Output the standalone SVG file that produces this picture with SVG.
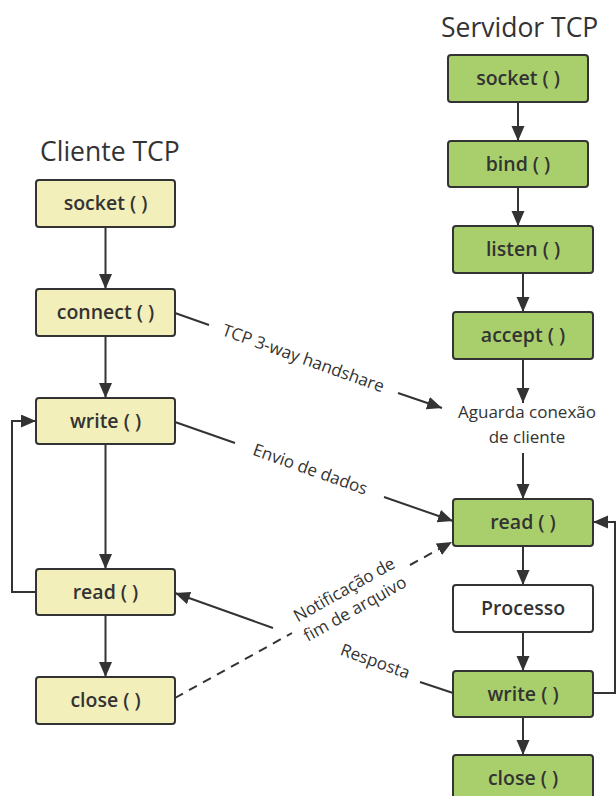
<svg xmlns="http://www.w3.org/2000/svg" width="616" height="796" viewBox="0 0 616 796">
<style>
.title{font-family:"Open Sans","Noto Sans",sans-serif;font-size:26.5px;fill:#333}
.box rect{stroke:#333;stroke-width:2}
.cli rect{fill:#f2efbb}
.srv rect{fill:#a9cf6c}
.wht rect{fill:#ffffff}
.box text{font-family:"Open Sans","Noto Sans",sans-serif;font-size:19.5px;font-weight:600;fill:#333;text-anchor:middle}
.lbl{font-family:"Open Sans","Noto Sans",sans-serif;font-size:17px;fill:#333;text-anchor:middle}
.ln{stroke:#333;stroke-width:2;fill:none}
.dash{stroke-dasharray:9 7}
</style>
<defs>
<marker id="ah" markerUnits="userSpaceOnUse" markerWidth="16" markerHeight="14" refX="15" refY="6.5" orient="auto">
<path d="M0,0 L15,6.5 L0,13 z" fill="#333"/>
</marker>
</defs>

<text class="title" x="40" y="161">Cliente TCP</text>
<text class="title" x="441" y="37">Servidor TCP</text>

<g id="c_socket" class="box cli"><rect x="36" y="180" width="139" height="47" rx="3"/><text x="105.5" y="210">socket ( )</text></g>
<g id="c_connect" class="box cli"><rect x="36" y="289" width="139" height="47" rx="3"/><text x="105.5" y="319">connect ( )</text></g>
<g id="c_write" class="box cli"><rect x="36" y="398" width="139" height="46" rx="3"/><text x="105.5" y="428">write ( )</text></g>
<g id="c_read" class="box cli"><rect x="36" y="569" width="139" height="46" rx="3"/><text x="105.5" y="599">read ( )</text></g>
<g id="c_close" class="box cli"><rect x="36" y="677" width="139" height="47" rx="3"/><text x="105.5" y="707">close ( )</text></g>

<g id="s_socket" class="box srv"><rect x="448" y="55" width="140" height="47" rx="3"/><text x="518" y="85">socket ( )</text></g>
<g id="s_bind" class="box srv"><rect x="448" y="141" width="140" height="46" rx="3"/><text x="518" y="171">bind ( )</text></g>
<g id="s_listen" class="box srv"><rect x="453" y="226" width="140" height="47" rx="3"/><text x="523" y="256">listen ( )</text></g>
<g id="s_accept" class="box srv"><rect x="453" y="312" width="140" height="47" rx="3"/><text x="523" y="342">accept ( )</text></g>
<g id="s_wait"><text class="lbl" x="527" y="418">Aguarda conexão</text><text class="lbl" x="527" y="443">de cliente</text></g>
<g id="s_read" class="box srv"><rect x="453" y="499" width="140" height="47" rx="3"/><text x="523" y="529">read ( )</text></g>
<g id="s_proc" class="box wht"><rect x="453" y="585" width="140" height="47" rx="3"/><text x="523" y="615">Processo</text></g>
<g id="s_write" class="box srv"><rect x="453" y="671" width="140" height="46" rx="3"/><text x="523" y="701">write ( )</text></g>
<g id="s_close" class="box srv"><rect x="453" y="755" width="140" height="47" rx="3"/><text x="523" y="785">close ( )</text></g>

<g id="connectors">
<line class="ln" x1="105.5" y1="227" x2="105.5" y2="289" marker-end="url(#ah)"/>
<line class="ln" x1="105.5" y1="336" x2="105.5" y2="398" marker-end="url(#ah)"/>
<line class="ln" x1="105.5" y1="444" x2="105.5" y2="569" marker-end="url(#ah)"/>
<line class="ln" x1="105.5" y1="615" x2="105.5" y2="677" marker-end="url(#ah)"/>
<polyline class="ln" points="36,592 12,592 12,421 36,421" marker-end="url(#ah)"/>

<line class="ln" x1="518" y1="102" x2="518" y2="141" marker-end="url(#ah)"/>
<line class="ln" x1="518" y1="187" x2="518" y2="226" marker-end="url(#ah)"/>
<line class="ln" x1="523" y1="273" x2="523" y2="312" marker-end="url(#ah)"/>
<line class="ln" x1="523" y1="359" x2="523" y2="403" marker-end="url(#ah)"/>
<line class="ln" x1="523" y1="453" x2="523" y2="499" marker-end="url(#ah)"/>
<line class="ln" x1="523" y1="546" x2="523" y2="585" marker-end="url(#ah)"/>
<line class="ln" x1="523" y1="632" x2="523" y2="671" marker-end="url(#ah)"/>
<line class="ln" x1="523" y1="717" x2="523" y2="755" marker-end="url(#ah)"/>
<polyline class="ln" points="593,693 615,693 615,522 593,522" marker-end="url(#ah)"/>

<line class="ln" x1="175" y1="313" x2="209" y2="325"/>
<line class="ln" x1="398" y1="393" x2="442" y2="408" marker-end="url(#ah)"/>
<text class="lbl" transform="translate(303,359) rotate(19.7)" y="5">TCP 3-way handshare</text>

<line class="ln" x1="175" y1="422" x2="235" y2="443"/>
<line class="ln" x1="384" y1="497" x2="453" y2="521" marker-end="url(#ah)"/>
<text class="lbl" transform="translate(310,470) rotate(19.6)" y="5">Envio de dados</text>

<line class="ln" x1="453" y1="693" x2="420" y2="682"/>
<line class="ln" x1="273" y1="628" x2="175" y2="593" marker-end="url(#ah)"/>
<text class="lbl" transform="translate(375,662) rotate(19.8)" y="5">Resposta</text>

<line class="ln dash" x1="175" y1="698" x2="292" y2="633"/>
<line class="ln dash" x1="410" y1="565" x2="452" y2="542" marker-end="url(#ah)"/>
<text class="lbl" transform="translate(350,600) rotate(-29.4)"><tspan x="0" y="-6">Notificação de</tspan><tspan x="0" y="16">fim de arquivo</tspan></text>
</g>
</svg>
